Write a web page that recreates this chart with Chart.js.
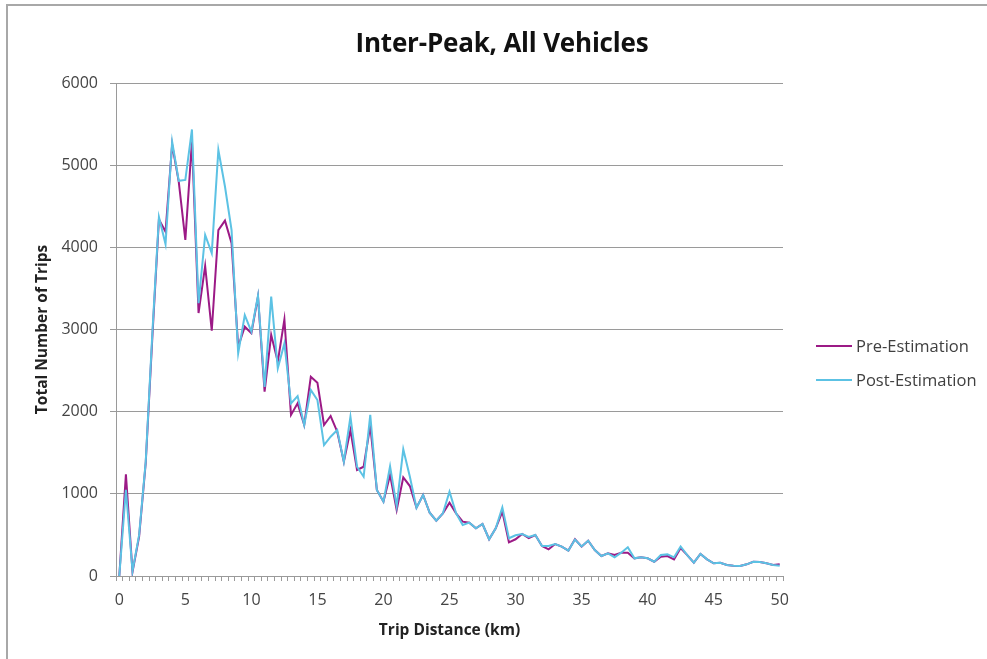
<!DOCTYPE html>
<html lang="en">
<head>
    <meta charset="UTF-8">
    <title>Inter-Peak, All Vehicles</title>
    <script src="https://cdn.jsdelivr.net/npm/chart.js"></script>
    <style>
        html, body { margin: 0; padding: 0; background: #fff; }
        .wrap { position: relative; width: 987px; height: 659px; overflow: hidden; font-family: 'Open Sans', sans-serif; }
        .frame { position: absolute; left: 6px; top: 4px; width: 1000px; height: 700px;
                 border-top: 2px solid #a8a8a8; border-left: 2px solid #a8a8a8; }
        canvas { position: absolute; left: 0; top: 0; }
        .titulo { position: absolute; left: 302px; width: 400px; top: 24px; text-align: center;
                  font-size: 26px; font-weight: bold; color: #111; line-height: 36px; letter-spacing: -0.2px; }
        .legenda { position: absolute; left: 816px; font-size: 16.5px; color: #404040; }
        .legenda .item { position: absolute; left: 0; white-space: nowrap; height: 20px; line-height: 20px; }
        .legenda .linha { position: absolute; left: 0; top: 9px; width: 36px; height: 2px; }
        .legenda .txt { position: absolute; left: 40px; top: 0; }
    </style>
</head>
<body>
    <div class="wrap">
        <div class="frame"></div>
        <canvas id="grafico" width="987" height="659"></canvas>
        <div class="titulo">Inter-Peak, All Vehicles</div>

        <!-- legenda -->
        <div class="legenda">
            <div class="item" style="top:336px"><div class="linha" style="background:#9c1a86"></div><span class="txt">Pre-Estimation</span></div>
            <div class="item" style="top:370px"><div class="linha" style="background:#5cc2e4"></div><span class="txt">Post-Estimation</span></div>
        </div>
    </div>

<script>
    // distancia da viagem (km), passo de 0.5
    const distancias = [
        '0', '0.5', '1', '1.5', '2', '2.5', '3', '3.5', '4', '4.5',
        '5', '5.5', '6', '6.5', '7', '7.5', '8', '8.5', '9', '9.5',
        '10', '10.5', '11', '11.5', '12', '12.5', '13', '13.5', '14', '14.5',
        '15', '15.5', '16', '16.5', '17', '17.5', '18', '18.5', '19', '19.5',
        '20', '20.5', '21', '21.5', '22', '22.5', '23', '23.5', '24', '24.5',
        '25', '25.5', '26', '26.5', '27', '27.5', '28', '28.5', '29', '29.5',
        '30', '30.5', '31', '31.5', '32', '32.5', '33', '33.5', '34', '34.5',
        '35', '35.5', '36', '36.5', '37', '37.5', '38', '38.5', '39', '39.5',
        '40', '40.5', '41', '41.5', '42', '42.5', '43', '43.5', '44', '44.5',
        '45', '45.5', '46', '46.5', '47', '47.5', '48', '48.5', '49', '49.5',
        '50'
    ];

    const preEstimation = [
        0, 1238, 50, 480, 1375, 2900, 4340, 4190, 5250, 4800,
        4090, 5290, 3200, 3773, 2985, 4210, 4325, 4050, 2790, 3034,
        2954, 3400, 2243, 2934, 2608, 3123, 1960, 2101, 1838, 2425,
        2353, 1838, 1947, 1756, 1391, 1777, 1290, 1330, 1830, 1047,
        905, 1230, 803, 1201, 1095, 831, 986, 770, 673, 763,
        892, 763, 661, 649, 580, 633, 447, 580, 783, 410,
        447, 511, 462, 499, 365, 325, 389, 357, 310, 447,
        357, 430, 316, 243, 276, 255, 284, 284, 215, 227,
        215, 174, 235, 243, 203, 340, 255, 162, 268, 203,
        154, 162, 134, 126, 122, 142, 174, 170, 154, 134,
        142
    ];

    const postEstimation = [
        0, 1050, 60, 500, 1390, 2950, 4370, 4040, 5285, 4810,
        4820, 5435, 3320, 4150, 3930, 5185, 4740, 4210, 2710, 3176,
        2975, 3412, 2300, 3400, 2527, 2831, 2101, 2190, 1838, 2264,
        2142, 1594, 1695, 1777, 1391, 1939, 1330, 1208, 1960, 1047,
        905, 1335, 850, 1542, 1208, 831, 986, 770, 673, 763,
        1026, 763, 621, 649, 580, 633, 447, 580, 836, 459,
        495, 511, 475, 499, 365, 365, 389, 357, 310, 444,
        360, 430, 316, 243, 276, 228, 284, 349, 215, 227,
        215, 174, 255, 263, 227, 360, 255, 162, 268, 203,
        154, 162, 134, 126, 122, 142, 174, 170, 154, 134,
        126
    ];

    const ticksY = [0, 1000, 2000, 3000, 4000, 5000, 6000];

    Chart.defaults.font.family = "'Open Sans', sans-serif";

    const cinza = '#9a9a9a';

    new Chart(document.getElementById('grafico'), {
        type: 'line',
        data: {
            labels: distancias,
            datasets: [
                {
                    label: 'Pre-Estimation',
                    data: preEstimation,
                    borderColor: '#9c1a86',
                    borderWidth: 2,
                    pointRadius: 0,
                    tension: 0,
                    order: 1
                },
                {
                    label: 'Post-Estimation',
                    data: postEstimation,
                    borderColor: '#5cc2e4',
                    borderWidth: 2,
                    pointRadius: 0,
                    tension: 0,
                    order: 0
                }
            ]
        },
        options: {
            responsive: false,
            animation: false,
            layout: { padding: { left: 0, right: 204, top: 83, bottom: 0 } },
            plugins: {
                legend: { display: false },
                tooltip: { enabled: false },
                title: { display: false }
            },
            scales: {
                x: {
                    type: 'category',
                    offset: true,
                    grid: { display: true, drawOnChartArea: false, offset: true, tickLength: 5, color: cinza },
                    border: { display: true, color: cinza, width: 1 },
                    ticks: {
                        autoSkip: false,
                        maxRotation: 0,
                        padding: 10,
                        color: '#444',
                        font: { size: 16 },
                        callback: function (val, idx) {
                            return idx % 10 === 0 ? this.getLabelForValue(val) : '';
                        }
                    },
                    title: {
                        display: true,
                        text: 'Trip Distance (km)',
                        color: '#222',
                        font: { size: 15.5, weight: 'bold', lineHeight: 1.2 },
                        padding: { top: 0, bottom: 19 }
                    },
                    afterFit: function (scale) { scale.height = 83; }
                },
                y: {
                    min: 0,
                    max: 6000,
                    afterBuildTicks: function (scale) {
                        scale.ticks = ticksY.map(v => ({ value: v }));
                    },
                    grid: { color: cinza, tickLength: 6 },
                    border: { display: true, color: cinza, width: 1 },
                    ticks: {
                        padding: 12,
                        color: '#444',
                        font: { size: 16 },
                        callback: function (val) { return String(val); }
                    },
                    title: {
                        display: true,
                        text: 'Total Number of Trips',
                        color: '#222',
                        font: { size: 15.5, weight: 'bold', lineHeight: 1.2 },
                        padding: { top: 33, bottom: 0 }
                    },
                    afterFit: function (scale) { scale.width = 116; }
                }
            }
        }
    });
</script>
</body>
</html>
